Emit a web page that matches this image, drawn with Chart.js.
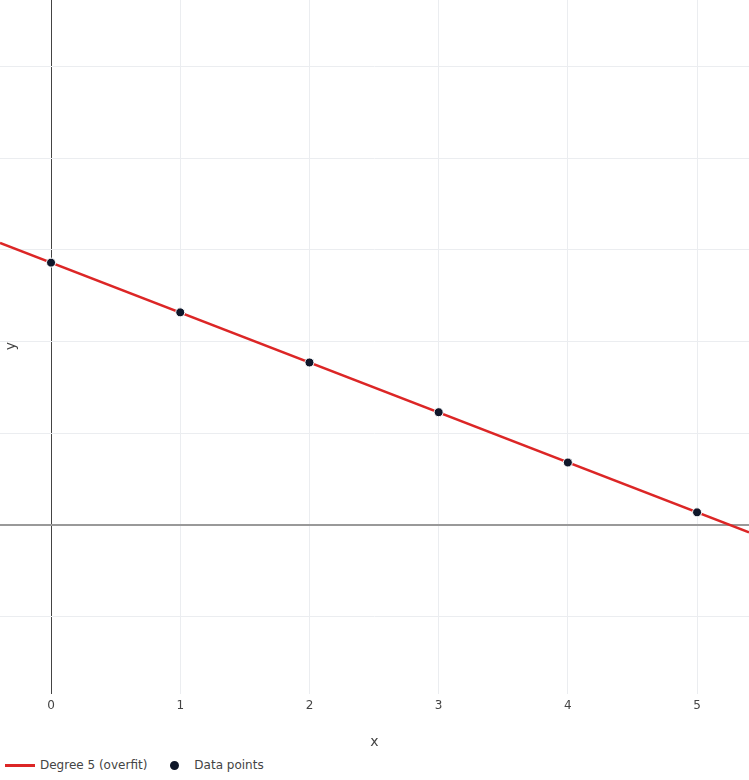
<!DOCTYPE html>
<html>
<head>
<meta charset="utf-8">
<script src="https://cdn.jsdelivr.net/npm/chart.js@4/dist/chart.umd.min.js"></script>
<style>
  html, body { margin: 0; padding: 0; background: #fff; }
  #wrap { position: relative; width: 749px; height: 780px; font-family: "DejaVu Sans", sans-serif; }
  #box { position: absolute; left: 0; top: 0; width: 749px; height: 756px; }
  #legend { position: absolute; left: 5px; top: 756px; height: 18px; display: flex; align-items: center; font-size: 12px; color: #444; }
  .item { display: flex; align-items: center; }
  .swline { width: 30px; height: 3px; margin-right: 5px; }
  .swdot { width: 9px; height: 9px; border-radius: 50%; margin: 0 15px 0 23px; }
</style>
</head>
<body>
<div id="wrap">
  <div id="box"><canvas id="chart"></canvas></div>
  <div id="legend"></div>
</div>
<script>
// valeurs
const pointX = [0, 1, 2, 3, 4, 5];
const pointY = [2.86, 2.317, 1.77, 1.227, 0.678, 0.134];
const fitX = [-0.395, 5.402];
const fitY = [3.075, -0.085];
const xTicks = [0, 1, 2, 3, 4, 5];
const seriesNames = ["Degree 5 (overfit)", "Data points"];
const seriesColors = ["#dc2626", "#0f172a"];

const gridColor = "#ebedf0";

// titre de l'axe y dessiné à la main (il chevauche la zone du graphique)
const yTitlePlugin = {
    id: 'yTitle',
    afterDraw(chart) {
        const ctx = chart.ctx;
        ctx.save();
        ctx.translate(11, 346);
        ctx.rotate(-Math.PI / 2);
        ctx.fillStyle = '#444';
        ctx.font = '14px "DejaVu Sans"';
        ctx.textAlign = 'center';
        ctx.textBaseline = 'middle';
        ctx.fillText('y', 0, 0);
        ctx.restore();
    }
};

const ctx = document.getElementById('chart').getContext('2d');
new Chart(ctx, {
    type: 'scatter',
    data: {
        datasets: [
            {
                label: seriesNames[0],
                type: 'line',
                data: fitX.map((x, i) => ({ x: x, y: fitY[i] })),
                borderColor: seriesColors[0],
                borderWidth: 2.5,
                pointRadius: 0,
                fill: false,
                order: 2
            },
            {
                label: seriesNames[1],
                data: pointX.map((x, i) => ({ x: x, y: pointY[i] })),
                backgroundColor: seriesColors[1],
                borderColor: '#ffffff',
                borderWidth: 1,
                pointRadius: 4.5,
                order: 1
            }
        ]
    },
    options: {
        responsive: true,
        maintainAspectRatio: false,
        animation: false,
        layout: { autoPadding: false, padding: { left: 0, right: 0, top: 0, bottom: 5 } },
        plugins: {
            legend: { display: false },
            tooltip: { enabled: false }
        },
        scales: {
            x: {
                type: 'linear',
                min: -0.395,
                max: 5.402,
                afterBuildTicks: (axis) => { axis.ticks = xTicks.map(v => ({ value: v })); },
                ticks: {
                    padding: 5,
                    color: '#444',
                    font: { family: 'DejaVu Sans', size: 12 }
                },
                grid: {
                    drawTicks: false,
                    color: (c) => c.tick && c.tick.value === 0 ? '#444' : gridColor,
                    lineWidth: 1
                },
                border: { display: false },
                title: {
                    display: true,
                    text: 'x',
                    color: '#444',
                    font: { family: 'DejaVu Sans', size: 14 },
                    padding: { top: 16, bottom: 0 }
                }
            },
            y: {
                type: 'linear',
                min: -1.847,
                max: 5.727,
                ticks: { display: false, stepSize: 1, includeBounds: false },
                grid: {
                    drawTicks: false,
                    color: (c) => c.tick && c.tick.value === 0 ? '#999' : gridColor,
                    lineWidth: (c) => c.tick && c.tick.value === 0 ? 2 : 1
                },
                border: { display: false }
            }
        }
    },
    plugins: [yTitlePlugin]
});

// légende
const legend = document.getElementById('legend');
legend.innerHTML = `
    <div class="item"><div class="swline" style="background:${seriesColors[0]}"></div><span>${seriesNames[0]}</span></div>
    <div class="item"><div class="swdot" style="background:${seriesColors[1]}"></div><span>${seriesNames[1]}</span></div>
`;
</script>
</body>
</html>
